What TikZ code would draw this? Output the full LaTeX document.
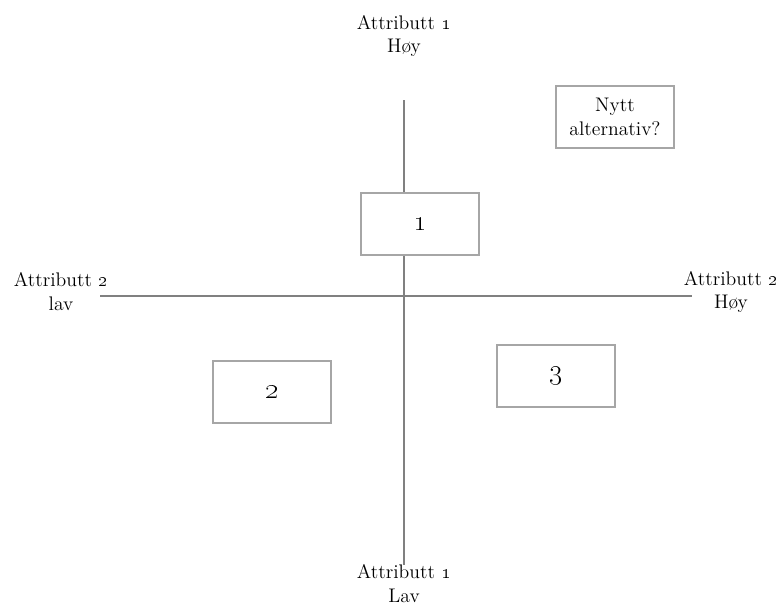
\documentclass[tikz,border=0pt]{standalone}
\usepackage{tikz}
\usetikzlibrary{positioning}
\tikzset{
  axisline/.style={draw=black!50, line width=1pt},
  optbox/.style={draw=black!35, line width=1.4pt, fill=white, minimum width=2.93cm, minimum height=1.56cm, align=center},
  axislabel/.style={align=center, inner sep=0pt},
  bigtext/.style={font=\fontsize{14}{17}\selectfont},
  numtext/.style={font=\fontsize{21}{24}\selectfont}
}

\begin{document}
\begin{tikzpicture}[x=0.025cm, y=-0.025cm, every node/.style={bigtext}]
  \useasboundingbox (0,0) rectangle (782,605);
  % ends of the axes
  \coordinate (ytop) at (404,100);
  \coordinate (ybot) at (404,565);
  \coordinate (xleft) at (100,296);
  \coordinate (xright) at (692,296);
  \draw[axisline] (ytop) -- (ybot);
  \draw[axisline] (xleft) -- (xright);
  % axis labels
  \node[axislabel] (hi1) at (404,36) {Attributt \oldstylenums{1}\\ Høy};
  \node[axislabel] (lo1) at (404,584) {Attributt \oldstylenums{1}\\ Lav};
  \node[axislabel] (lo2) at (61,292) {Attributt \oldstylenums{2}\\ lav};
  \node[axislabel] (hi2) at (731,292) {Attributt \oldstylenums{2}\\ Høy};
  % alternatives
  \node[optbox, numtext] (alt1) at (420,224) {\oldstylenums{1}};
  \node[optbox, numtext] (alt2) at (272,392) {\oldstylenums{2}};
  \node[optbox, numtext] (alt3) at (556,376) {\oldstylenums{3}};
  \node[optbox] (altnew) at (615,117) {Nytt\\ alternativ?};
\end{tikzpicture}
\end{document}
